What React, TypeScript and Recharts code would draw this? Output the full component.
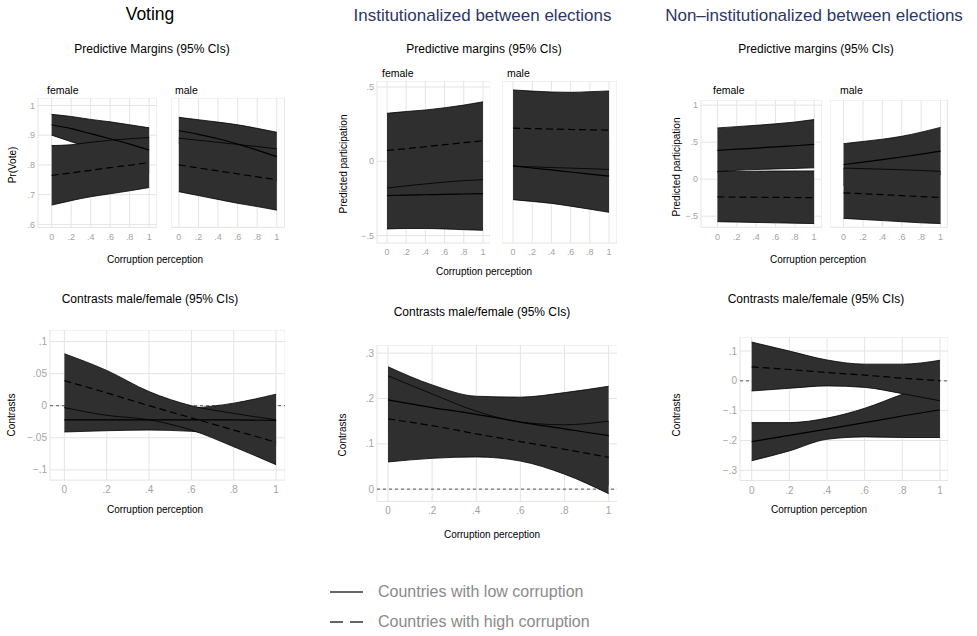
import React from 'react';
import {
  ComposedChart,
  Area,
  Line,
  XAxis,
  YAxis,
  CartesianGrid,
  ReferenceLine
} from 'recharts';

const FONT = '"Liberation Sans", Arial, Helvetica, sans-serif';
const BAND_FILL = '#2f2f2f';
const GRID = '#e4e4e4';
const TICK = '#a3a3a3';
const NAVY = '#2c3763';

// corruption perception (x)
const corruption = [0, 0.2, 0.4, 0.6, 0.8, 1];
const xTicks = [0, 0.2, 0.4, 0.6, 0.8, 1];

// Voting - predictive margins
const votingFemaleLow = {
  mid: [0.935, 0.922, 0.905, 0.888, 0.87, 0.85],
  lo: [0.9, 0.878, 0.857, 0.83, 0.805, 0.775],
  hi: [0.97, 0.963, 0.953, 0.945, 0.935, 0.925]
};
const votingFemaleHigh = {
  mid: [0.765, 0.773, 0.782, 0.791, 0.799, 0.808],
  lo: [0.665, 0.68, 0.693, 0.703, 0.713, 0.724],
  hi: [0.865, 0.868, 0.876, 0.883, 0.888, 0.892]
};
const votingMaleLow = {
  mid: [0.915, 0.903, 0.888, 0.87, 0.85, 0.828],
  lo: [0.87, 0.854, 0.832, 0.805, 0.777, 0.746],
  hi: [0.96, 0.952, 0.944, 0.935, 0.923, 0.91]
};
const votingMaleHigh = {
  mid: [0.8, 0.79, 0.78, 0.77, 0.76, 0.75],
  lo: [0.71, 0.697, 0.684, 0.671, 0.66, 0.648],
  hi: [0.89, 0.883, 0.876, 0.869, 0.862, 0.854]
};

// Institutionalized - predictive margins
const instFemaleLow = {
  mid: [-0.23, -0.228, -0.225, -0.222, -0.22, -0.218],
  lo: [-0.455, -0.452, -0.452, -0.455, -0.46, -0.464],
  hi: [-0.005, 0.0, 0.007, 0.013, 0.02, 0.028]
};
const instFemaleHigh = {
  mid: [0.073, 0.085, 0.098, 0.112, 0.125, 0.138],
  lo: [-0.18, -0.165, -0.152, -0.14, -0.13, -0.124],
  hi: [0.323, 0.335, 0.345, 0.36, 0.378, 0.4]
};
const instMaleLow = {
  mid: [-0.03, -0.045, -0.058, -0.072, -0.086, -0.1],
  lo: [-0.258, -0.27, -0.283, -0.302, -0.322, -0.343],
  hi: [0.2, 0.19, 0.18, 0.165, 0.155, 0.143]
};
const instMaleHigh = {
  mid: [0.223, 0.22, 0.217, 0.214, 0.212, 0.209],
  lo: [-0.034, -0.037, -0.042, -0.046, -0.05, -0.055],
  hi: [0.48, 0.472, 0.466, 0.464, 0.468, 0.473]
};

// Non-institutionalized - predictive margins
const nonInstFemaleLow = {
  mid: [0.39, 0.405, 0.42, 0.437, 0.452, 0.47],
  lo: [0.095, 0.12, 0.13, 0.138, 0.145, 0.153],
  hi: [0.693, 0.71, 0.728, 0.748, 0.772, 0.806]
};
const nonInstFemaleHigh = {
  mid: [-0.24, -0.242, -0.244, -0.246, -0.248, -0.25],
  lo: [-0.575, -0.58, -0.585, -0.59, -0.595, -0.6],
  hi: [0.105, 0.107, 0.108, 0.11, 0.111, 0.112]
};
const nonInstMaleLow = {
  mid: [0.198, 0.23, 0.265, 0.3, 0.338, 0.378],
  lo: [-0.08, -0.05, -0.01, 0.02, 0.04, 0.06],
  hi: [0.48, 0.51, 0.54, 0.58, 0.635, 0.7]
};
const nonInstMaleHigh = {
  mid: [-0.185, -0.197, -0.21, -0.222, -0.235, -0.248],
  lo: [-0.53, -0.545, -0.56, -0.575, -0.59, -0.6],
  hi: [0.15, 0.142, 0.135, 0.127, 0.117, 0.106]
};

// Contrasts male/female
const votingContrastLow = {
  mid: [-0.022, -0.022, -0.022, -0.022, -0.022, -0.023],
  lo: [-0.041, -0.039, -0.038, -0.04, -0.048, -0.062],
  hi: [-0.003, -0.006, -0.007, -0.004, 0.004, 0.018]
};
const votingContrastHigh = {
  mid: [0.039, 0.02, 0.0, -0.019, -0.038, -0.057],
  lo: [-0.003, -0.015, -0.022, -0.038, -0.064, -0.092],
  hi: [0.081, 0.055, 0.022, 0.0, -0.012, -0.022]
};
const instContrastLow = {
  mid: [0.197, 0.18, 0.165, 0.148, 0.133, 0.118],
  lo: [0.124, 0.13, 0.125, 0.093, 0.053, 0.009],
  hi: [0.27, 0.23, 0.205, 0.203, 0.213, 0.227]
};
const instContrastHigh = {
  mid: [0.155, 0.14, 0.122, 0.105, 0.088, 0.07],
  lo: [0.06, 0.068, 0.071, 0.062, 0.033, -0.01],
  hi: [0.25, 0.21, 0.172, 0.148, 0.142, 0.15]
};
const nonInstContrastLow = {
  mid: [-0.204, -0.183, -0.162, -0.14, -0.118, -0.097],
  lo: [-0.268, -0.235, -0.196, -0.188, -0.19, -0.19],
  hi: [-0.14, -0.14, -0.125, -0.092, -0.045, -0.004]
};
const nonInstContrastHigh = {
  mid: [0.047, 0.038, 0.028, 0.019, 0.009, 0.0],
  lo: [-0.034, -0.025, -0.017, -0.022, -0.043, -0.067],
  hi: [0.13, 0.1, 0.07, 0.056, 0.056, 0.069]
};

// y tick sets
const votingTicks = [0.6, 0.7, 0.8, 0.9, 1];
const instTicks = [-0.5, 0, 0.5];
const nonInstTicks = [-0.5, 0, 0.5, 1];
const votingContrastTicks = [-0.1, -0.05, 0, 0.05, 0.1];
const instContrastTicks = [0, 0.1, 0.2, 0.3];
const nonInstContrastTicks = [-0.3, -0.2, -0.1, 0, 0.1];

// stata style: .2, -.05, 1
const fmt = (v: number) => {
  if (Math.abs(v) < 1e-9) return '0';
  const s = Math.abs(v).toFixed(2).replace(/0+$/, '').replace(/\.$/, '').replace(/^0/, '');
  return (v < 0 ? '\u2212' : '') + s;
};

type Band = { mid: number[]; lo: number[]; hi: number[] };
type Geo = {
  x0: number; x1: number; xDom: [number, number];
  ya: number; yaPx: number; yb: number; ybPx: number; yDom: [number, number];
};

function Panel({ g, low, high, yTicks, showY, refZero, fontSize }: {
  g: Geo; low: Band; high: Band; yTicks: number[]; showY: boolean; refZero?: boolean; fontSize: number;
}) {
  const xpx = g.x1 - g.x0;
  const ypx = (g.ybPx - g.yaPx) / (g.ya - g.yb);
  const left = g.x0 + g.xDom[0] * xpx;
  const right = g.x0 + g.xDom[1] * xpx;
  const top = g.yaPx - (g.yDom[1] - g.ya) * ypx;
  const bottom = g.yaPx + (g.ya - g.yDom[0]) * ypx;
  const yw = showY ? 40 : 0;
  const xh = 24;
  const w = right - left + yw;
  const h = bottom - top + xh;

  const data = corruption.map((x, i) => ({
    x,
    lowBand: [low.lo[i], low.hi[i]],
    lowMid: low.mid[i],
    highBand: [high.lo[i], high.hi[i]],
    highMid: high.mid[i]
  }));

  const tickStyle = { fill: TICK, fontSize, fontFamily: FONT };
  const margin = { top: 0, right: 0, bottom: 0, left: 0 };

  const axes = (withTicks: boolean) => [
    <XAxis
      key="x"
      type="number"
      dataKey="x"
      domain={g.xDom}
      ticks={xTicks}
      interval={0}
      allowDataOverflow
      tickFormatter={fmt}
      tick={withTicks ? tickStyle : false}
      tickLine={false}
      axisLine={false}
      tickSize={0}
      tickMargin={6}
      height={xh}
    />,
    <YAxis
      key="y"
      type="number"
      domain={g.yDom}
      ticks={yTicks}
      interval={0}
      allowDataOverflow
      width={yw}
      tickFormatter={fmt}
      tick={withTicks && showY ? tickStyle : false}
      tickLine={false}
      axisLine={false}
      tickSize={0}
      tickMargin={3}
    />
  ];

  return (
    <>
      {/* back layer: grid, ticks, zero reference */}
      <div style={{ position: 'absolute', left: left - yw, top }}>
        <ComposedChart width={w} height={h} data={data} margin={margin}>
          <CartesianGrid stroke={GRID} strokeWidth={1} />
          {axes(true)}
          {refZero && (
            <ReferenceLine y={0} stroke="#555" strokeWidth={1} strokeDasharray="3 3" />
          )}
        </ComposedChart>
      </div>
      {/* front layer: CI bands and predictions */}
      <div style={{ position: 'absolute', left: left - yw, top }}>
        <ComposedChart width={w} height={h} data={data} margin={margin}>
          {axes(false)}
          <Area
            type="monotone"
            dataKey="lowBand"
            fill={BAND_FILL}
            fillOpacity={1}
            stroke="#000"
            strokeWidth={0.8}
            isAnimationActive={false}
            activeDot={false}
          />
          <Area
            type="monotone"
            dataKey="highBand"
            fill={BAND_FILL}
            fillOpacity={1}
            stroke="#000"
            strokeWidth={0.8}
            isAnimationActive={false}
            activeDot={false}
          />
          <Line
            type="monotone"
            dataKey="lowMid"
            stroke="#000"
            strokeWidth={1.2}
            dot={false}
            activeDot={false}
            isAnimationActive={false}
          />
          <Line
            type="monotone"
            dataKey="highMid"
            stroke="#000"
            strokeWidth={1.2}
            strokeDasharray="7 4"
            dot={false}
            activeDot={false}
            isAnimationActive={false}
          />
        </ComposedChart>
      </div>
    </>
  );
}

function T({ x, y, size, color = '#000', rotate = false, align = 'center', children }: {
  x: number; y: number; size: number; color?: string; rotate?: boolean; align?: string; children: React.ReactNode;
}) {
  const tx = align === 'center' ? '-50%' : '0';
  return (
    <div
      style={{
        position: 'absolute',
        left: x,
        top: y,
        fontSize: size,
        color,
        whiteSpace: 'nowrap',
        lineHeight: 1,
        transform: `translate(${tx}, -50%)${rotate ? ' rotate(-90deg)' : ''}`
      }}
    >
      {children}
    </div>
  );
}

// panel placements (pixel positions of x=0, x=1 and two y values)
const geoVotingF: Geo = { x0: 51.5, x1: 149, xDom: [-0.14, 1.08], ya: 1, yaPx: 105, yb: 0.6, ybPx: 224, yDom: [0.59, 1.025] };
const geoVotingM: Geo = { x0: 179.3, x1: 277.3, xDom: [-0.08, 1.08], ya: 1, yaPx: 105, yb: 0.6, ybPx: 224, yDom: [0.59, 1.025] };
const geoInstF: Geo = { x0: 386.7, x1: 482.7, xDom: [-0.104, 1.076], ya: 0.5, yaPx: 87.3, yb: -0.5, ybPx: 236, yDom: [-0.55, 0.54] };
const geoInstM: Geo = { x0: 512.7, x1: 608.7, xDom: [-0.115, 1.083], ya: 0.5, yaPx: 87.3, yb: -0.5, ybPx: 236, yDom: [-0.55, 0.54] };
const geoNonF: Geo = { x0: 717.3, x1: 814, xDom: [-0.17, 1.08], ya: 1, yaPx: 105, yb: -0.5, ybPx: 216, yDom: [-0.65, 1.07] };
const geoNonM: Geo = { x0: 844, x1: 941, xDom: [-0.14, 1.07], ya: 1, yaPx: 105, yb: -0.5, ybPx: 216, yDom: [-0.65, 1.07] };
const geoVotingC: Geo = { x0: 64.3, x1: 276, xDom: [-0.068, 1.043], ya: 0.1, yaPx: 341.7, yb: -0.1, ybPx: 470, yDom: [-0.116, 0.118] };
const geoInstC: Geo = { x0: 387.7, x1: 608.3, xDom: [-0.05, 1.04], ya: 0.3, yaPx: 353.3, yb: 0, ybPx: 489.3, yDom: [-0.027, 0.318] };
const geoNonC: Geo = { x0: 751.7, x1: 940, xDom: [-0.062, 1.044], ya: 0.1, yaPx: 350.7, yb: -0.3, ybPx: 470, yDom: [-0.334, 0.147] };

export default function App() {
  return (
    <div
      style={{
        position: 'absolute',
        left: 0,
        top: 0,
        width: 977,
        height: 636,
        background: '#fff',
        fontFamily: FONT,
        overflow: 'hidden'
      }}
    >
      {/* column titles */}
      <T x={150} y={15} size={17.5}>Voting</T>
      <T x={482.5} y={15} size={17} color={NAVY}>Institutionalized between elections</T>
      <T x={814} y={15} size={17} color={NAVY}>Non–institutionalized between elections</T>

      <T x={152} y={49} size={12}>Predictive Margins (95% CIs)</T>
      <T x={484} y={49} size={12}>Predictive margins (95% CIs)</T>
      <T x={816} y={49} size={12}>Predictive margins (95% CIs)</T>

      <T x={47} y={90} size={10.5} align="left">female</T>
      <T x={175} y={90} size={10.5} align="left">male</T>
      <T x={382} y={73} size={10.5} align="left">female</T>
      <T x={507} y={73} size={10.5} align="left">male</T>
      <T x={713} y={90} size={10.5} align="left">female</T>
      <T x={840} y={90} size={10.5} align="left">male</T>

      <Panel g={geoVotingF} low={votingFemaleLow} high={votingFemaleHigh} yTicks={votingTicks} showY fontSize={9} />
      <Panel g={geoVotingM} low={votingMaleLow} high={votingMaleHigh} yTicks={votingTicks} showY={false} fontSize={9} />
      <Panel g={geoInstF} low={instFemaleLow} high={instFemaleHigh} yTicks={instTicks} showY fontSize={9} />
      <Panel g={geoInstM} low={instMaleLow} high={instMaleHigh} yTicks={instTicks} showY={false} fontSize={9} />
      <Panel g={geoNonF} low={nonInstFemaleLow} high={nonInstFemaleHigh} yTicks={nonInstTicks} showY fontSize={9} />
      <Panel g={geoNonM} low={nonInstMaleLow} high={nonInstMaleHigh} yTicks={nonInstTicks} showY={false} fontSize={9} />

      <T x={13} y={165} size={10} rotate>Pr(Vote)</T>
      <T x={344} y={164} size={10} rotate>Predicted participation</T>
      <T x={677} y={167} size={10} rotate>Predicted participation</T>

      <T x={155} y={260} size={10}>Corruption perception</T>
      <T x={484} y={272} size={10}>Corruption perception</T>
      <T x={818} y={260} size={10}>Corruption perception</T>

      {/* contrasts row */}
      <T x={150} y={299} size={12}>Contrasts male/female (95% CIs)</T>
      <T x={482} y={312} size={12}>Contrasts male/female (95% CIs)</T>
      <T x={816} y={299} size={12}>Contrasts male/female (95% CIs)</T>

      <Panel g={geoVotingC} low={votingContrastLow} high={votingContrastHigh} yTicks={votingContrastTicks} showY refZero fontSize={10} />
      <Panel g={geoInstC} low={instContrastLow} high={instContrastHigh} yTicks={instContrastTicks} showY refZero fontSize={10} />
      <Panel g={geoNonC} low={nonInstContrastLow} high={nonInstContrastHigh} yTicks={nonInstContrastTicks} showY refZero fontSize={10} />

      <T x={12} y={415} size={10} rotate>Contrasts</T>
      <T x={343} y={435} size={10} rotate>Contrasts</T>
      <T x={677} y={415} size={10} rotate>Contrasts</T>

      <T x={155} y={510} size={10}>Corruption perception</T>
      <T x={492} y={535} size={10}>Corruption perception</T>
      <T x={819} y={510} size={10}>Corruption perception</T>

      {/* legend */}
      <svg style={{ position: 'absolute', left: 328, top: 586 }} width={40} height={42}>
        <line x1={2} y1={6} x2={35} y2={6} stroke="#333" strokeWidth={1.5} />
        <line x1={2} y1={36} x2={35} y2={36} stroke="#333" strokeWidth={1.5} strokeDasharray="13 7" />
      </svg>
      <T x={378} y={592} size={16} color="#8a8a8a" align="left">Countries with low corruption</T>
      <T x={378} y={622} size={16} color="#8a8a8a" align="left">Countries with high corruption</T>
    </div>
  );
}
